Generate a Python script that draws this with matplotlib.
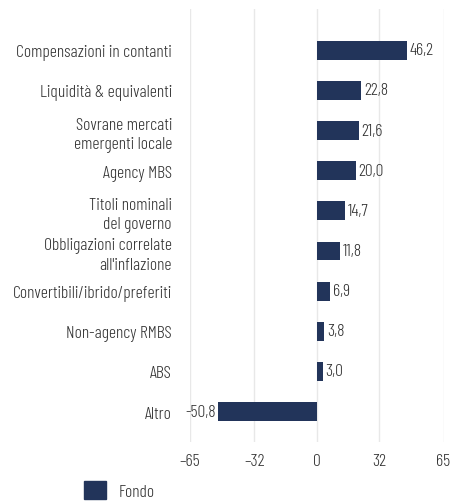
import matplotlib
matplotlib.use("Agg")
import matplotlib.pyplot as plt
from matplotlib.patches import Patch

categories = [
    "Compensazioni in contanti",
    "Liquidità & equivalenti",
    "Sovrane mercati\nemergenti locale",
    "Agency MBS",
    "Titoli nominali\ndel governo",
    "Obbligazioni correlate\nall'inflazione",
    "Convertibili/ibrido/preferiti",
    "Non-agency RMBS",
    "ABS",
    "Altro",
]
values = [46.2, 22.8, 21.6, 20.0, 14.7, 11.8, 6.9, 3.8, 3.0, -50.8]
value_labels = ["46,2", "22,8", "21,6", "20,0", "14,7", "11,8", "6,9", "3,8", "3,0", "-50,8"]
xticks = [-65, -32, 0, 32, 65]
xtick_labels = ["–65", "–32", "0", "32", "65"]
series_name = "Fondo"

FONT = ["Barlow Condensed", "DejaVu Sans"]
plt.rcParams["font.family"] = FONT
plt.rcParams["font.weight"] = 300
FS = 12.7
TXT = "#333333"
BAR = "#22345a"

fig = plt.figure(figsize=(4.51, 5.02), dpi=100)
W, H = 451, 502
ax = fig.add_axes([190 / W, 1 - 443 / H, (443.5 - 190) / W, (443 - 10) / H])

ypos = list(range(len(categories)))
ax.barh(ypos, values, height=0.47, color=BAR, zorder=3)
ax.set_ylim(9.76, -1.03)
ax.set_xlim(-65, 65)

ax.set_xticks(xticks)
ax.set_xticklabels(xtick_labels, fontsize=FS, color=TXT)
ax.set_yticks(ypos)
ax.set_yticklabels(categories, fontsize=FS, color=TXT)
for lab in ax.get_yticklabels():
    if "\n" in lab.get_text():
        lab.set_linespacing(1.3)
ax.tick_params(axis="both", length=0)
ax.tick_params(axis="y", pad=13)
ax.tick_params(axis="x", pad=8)

ax.grid(axis="x", color="#e8e8e8", linewidth=1.0, zorder=0)
ax.grid(axis="y", visible=False)
for s in ax.spines.values():
    s.set_visible(False)

for y, v, lab in zip(ypos, values, value_labels):
    if v >= 0:
        ax.annotate(lab, (v, y), xytext=(2, 0), textcoords="offset points",
                    ha="left", va="center", fontsize=FS, color=TXT)
    else:
        ax.annotate(lab, (v, y), xytext=(-1.5, 0), textcoords="offset points",
                    ha="right", va="center", fontsize=FS, color=TXT)

fig.legend(handles=[Patch(facecolor=BAR, edgecolor=BAR, label=series_name)],
           loc="upper left", bbox_to_anchor=(84 / W, 1 - 482 / H),
           frameon=False, fontsize=FS, borderpad=0, borderaxespad=0,
           handlelength=1.22, handleheight=1.22, handletextpad=0.75,
           labelcolor=TXT)

fig.savefig("out.png", dpi=100)
